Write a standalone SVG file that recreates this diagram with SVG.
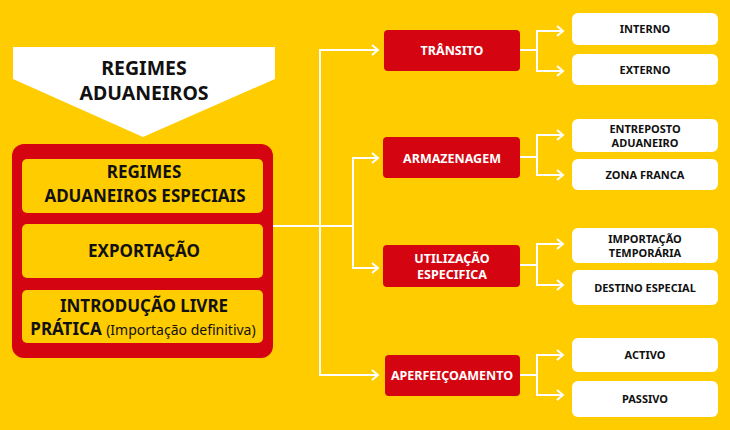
<svg xmlns="http://www.w3.org/2000/svg" width="730" height="430" viewBox="0 0 730 430">
<defs>
<style>
.bg{fill:#FFCC00}
.red{fill:#D40511}
.yel{fill:#FFCC00}
.wht{fill:#FFFFFF}
.t{font-family:"Noto Sans","Open Sans","Liberation Sans",sans-serif;font-weight:700;text-anchor:middle}
.big{font-size:19.5px;fill:#111}
.lft{font-size:17px;fill:#111}
.rt{font-size:12.5px;fill:#FFFFFF}
.wt{font-size:11px;fill:#111}
.sm{font-size:14px;font-weight:400}
.c{fill:none;stroke:#FFFFFF;stroke-width:2}
</style>
<marker id="ar" markerWidth="10" markerHeight="12" refX="7" refY="6" orient="auto" markerUnits="userSpaceOnUse">
<path d="M1,1 L7,6 L1,11" fill="none" stroke="#FFFFFF" stroke-width="2"/>
</marker>
</defs>
<rect class="bg" x="0" y="0" width="730" height="430"/>

<g id="title">
<polygon class="wht" points="13,47 275,47 275,79 143,137 13,79"/>
<text class="t big" x="144" y="75">REGIMES</text>
<text class="t big" x="144" y="100">ADUANEIROS</text>
</g>

<g id="left-panel">
<rect class="red" x="12" y="144" width="261" height="214" rx="12"/>
</g>
<g id="especiais">
<rect class="yel" x="22" y="159" width="241" height="54" rx="5"/>
<text class="t lft" x="144" y="178">REGIMES</text>
<text class="t lft" x="145" y="202">ADUANEIROS ESPECIAIS</text>
</g>
<g id="exportacao">
<rect class="yel" x="22" y="224" width="241" height="54" rx="5"/>
<text class="t lft" x="144" y="257">EXPORTAÇÃO</text>
</g>
<g id="introducao">
<rect class="yel" x="22" y="290" width="241" height="53" rx="5"/>
<text class="t lft" x="144" y="312">INTRODUÇÃO LIVRE</text>
<text class="t lft" x="143" y="335">PRÁTICA <tspan class="sm">(Importação definitiva)</tspan></text>
</g>

<g id="connectors">
<polyline class="c" points="273,226 353,226"/>
<polyline class="c" points="320,226 320,50 378,50" marker-end="url(#ar)"/>
<polyline class="c" points="320,226 320,375 378,375" marker-end="url(#ar)"/>
<polyline class="c" points="353,226 353,158 378,158" marker-end="url(#ar)"/>
<polyline class="c" points="353,226 353,268 378,268" marker-end="url(#ar)"/>

<polyline class="c" points="520,50 537,50"/>
<polyline class="c" points="537,50 537,31 563,31" marker-end="url(#ar)"/>
<polyline class="c" points="537,50 537,71 563,71" marker-end="url(#ar)"/>

<polyline class="c" points="520,157 537,157"/>
<polyline class="c" points="537,157 537,135 563,135" marker-end="url(#ar)"/>
<polyline class="c" points="537,157 537,175 563,175" marker-end="url(#ar)"/>

<polyline class="c" points="520,265 537,265"/>
<polyline class="c" points="537,265 537,244 563,244" marker-end="url(#ar)"/>
<polyline class="c" points="537,265 537,285 563,285" marker-end="url(#ar)"/>

<polyline class="c" points="520,375 537,375"/>
<polyline class="c" points="537,375 537,355 563,355" marker-end="url(#ar)"/>
<polyline class="c" points="537,375 537,395 563,395" marker-end="url(#ar)"/>
</g>

<g id="transito">
<rect class="red" x="384" y="30" width="136" height="41" rx="4"/>
<text class="t rt" x="452" y="55">TRÂNSITO</text>
</g>
<g id="armazenagem">
<rect class="red" x="383" y="137" width="137" height="41" rx="4"/>
<text class="t rt" x="452" y="163">ARMAZENAGEM</text>
</g>
<g id="utilizacao">
<rect class="red" x="383" y="245" width="137" height="42" rx="4"/>
<text class="t rt" x="452" y="263">UTILIZAÇÃO</text>
<text class="t rt" x="452" y="279">ESPECIFICA</text>
</g>
<g id="aperfeicoamento">
<rect class="red" x="385" y="355" width="135" height="41" rx="4"/>
<text class="t rt" x="452" y="380">APERFEIÇOAMENTO</text>
</g>

<g id="interno">
<rect class="wht" x="572" y="13" width="146" height="32" rx="6"/>
<text class="t wt" x="645" y="33">INTERNO</text>
</g>
<g id="externo">
<rect class="wht" x="572" y="54" width="146" height="31" rx="6"/>
<text class="t wt" x="645" y="74">EXTERNO</text>
</g>
<g id="entreposto">
<rect class="wht" x="572" y="119" width="146" height="33" rx="6"/>
<text class="t wt" x="645" y="133">ENTREPOSTO</text>
<text class="t wt" x="645" y="147">ADUANEIRO</text>
</g>
<g id="zona-franca">
<rect class="wht" x="572" y="159" width="146" height="31" rx="6"/>
<text class="t wt" x="645" y="179">ZONA FRANCA</text>
</g>
<g id="importacao-temporaria">
<rect class="wht" x="572" y="228" width="146" height="35" rx="6"/>
<text class="t wt" x="645" y="243">IMPORTAÇÃO</text>
<text class="t wt" x="645" y="257">TEMPORÁRIA</text>
</g>
<g id="destino-especial">
<rect class="wht" x="572" y="270" width="146" height="35" rx="6"/>
<text class="t wt" x="645" y="292">DESTINO ESPECIAL</text>
</g>
<g id="activo">
<rect class="wht" x="572" y="338" width="146" height="34" rx="6"/>
<text class="t wt" x="645" y="359">ACTIVO</text>
</g>
<g id="passivo">
<rect class="wht" x="572" y="381" width="146" height="36" rx="6"/>
<text class="t wt" x="645" y="403">PASSIVO</text>
</g>
</svg>
